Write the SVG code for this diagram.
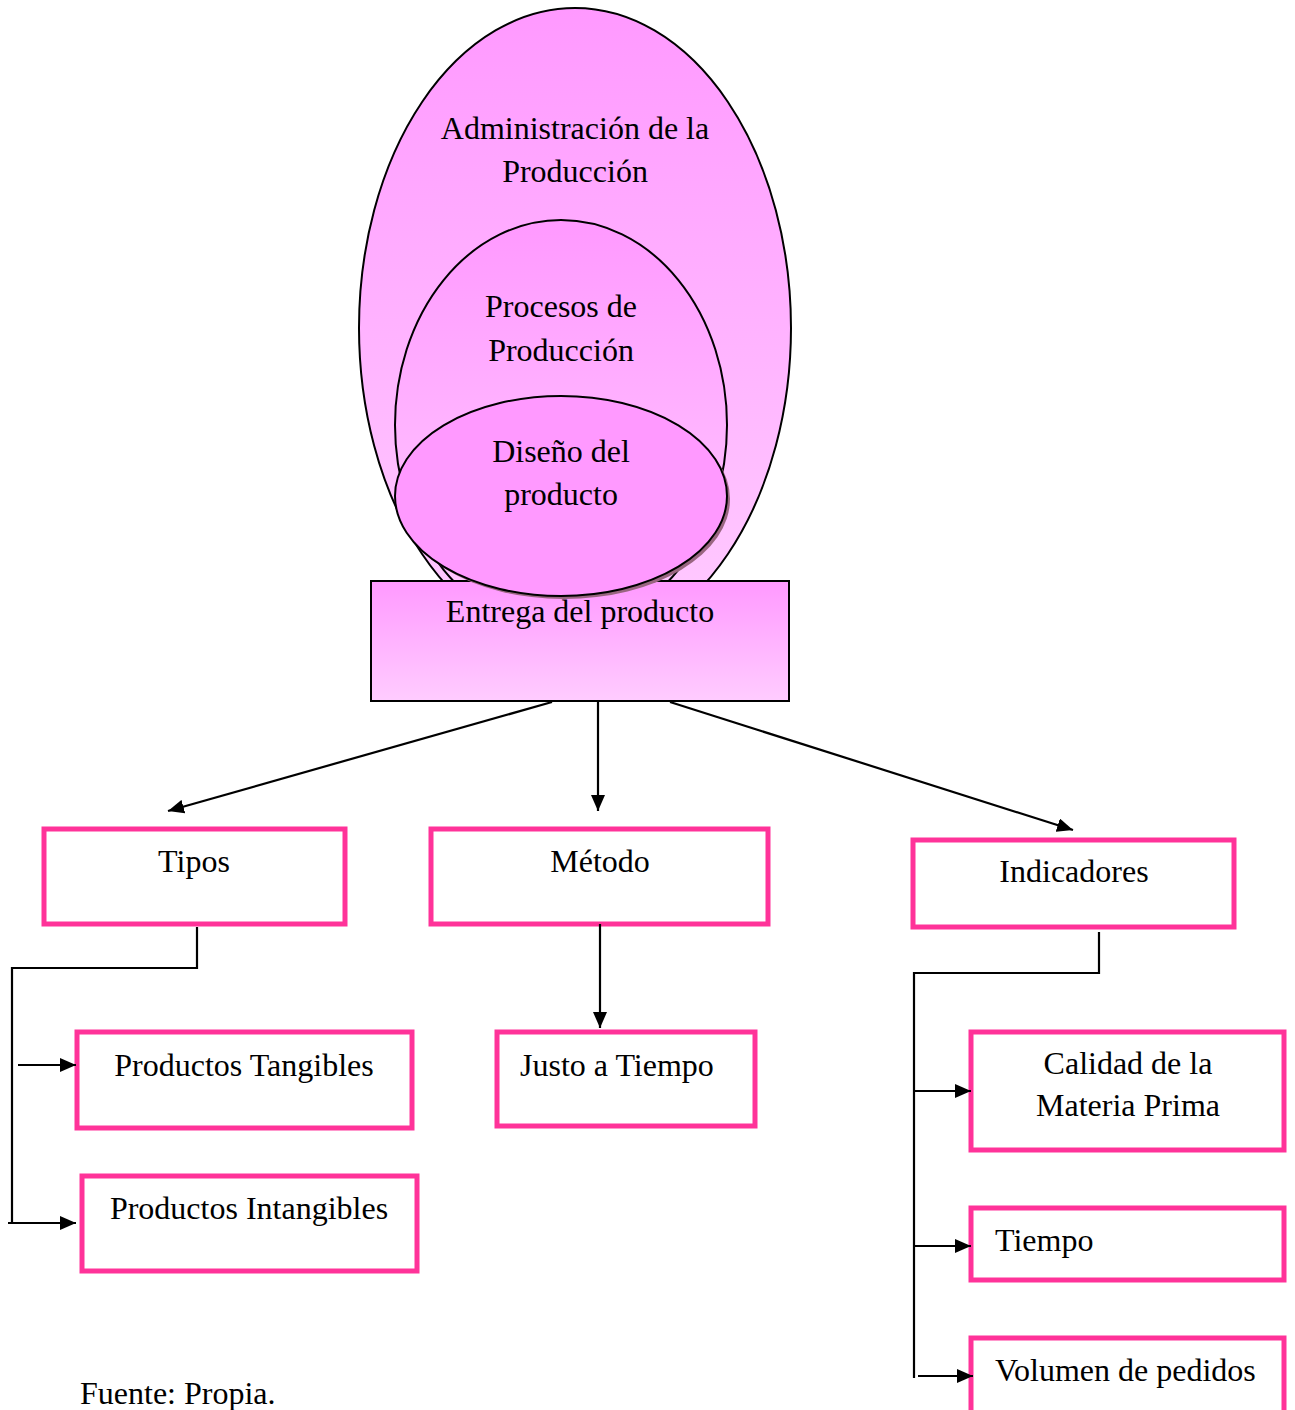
<svg xmlns="http://www.w3.org/2000/svg" width="1295" height="1410" viewBox="0 0 1295 1410">
<style>
text{font-family:"Liberation Serif","Times New Roman",serif;font-size:32px;fill:#000}
.c{text-anchor:middle}
.box{fill:#fff;stroke:#FF3399;stroke-width:5}
.ell{stroke:#000;stroke-width:2}
.ln{fill:none;stroke:#000;stroke-width:2.2}
</style>
<defs>
<linearGradient id="g1" x1="0" y1="0" x2="0" y2="1">
<stop offset="0" stop-color="#FF99FF"/>
<stop offset="1" stop-color="#FFCCFF"/>
</linearGradient>
<marker id="a" viewBox="0 0 16 14" refX="16" refY="7" markerWidth="16" markerHeight="14" markerUnits="userSpaceOnUse" orient="auto">
<path d="M0,0 L16,7 L0,14 z" fill="#000"/>
</marker>
</defs>
<g id="admin">
<ellipse class="ell" cx="575" cy="328" rx="216" ry="320" fill="url(#g1)"/>
<text class="c" x="575" y="139">Administración de la</text>
<text class="c" x="575" y="182">Producción</text>
</g>
<g id="procesos">
<ellipse class="ell" cx="561" cy="425" rx="166" ry="205" fill="url(#g1)"/>
<text class="c" x="561" y="317">Procesos de</text>
<text class="c" x="561" y="361">Producción</text>
</g>
<g id="entrega">
<rect x="371" y="581" width="418" height="120" fill="url(#g1)" stroke="#000" stroke-width="2"/>
<text class="c" x="580" y="622">Entrega del producto</text>
</g>
<g id="diseno">
<ellipse cx="564" cy="499" rx="166" ry="100" fill="#996680"/>
<ellipse class="ell" cx="561" cy="496" rx="166" ry="100" fill="#FF99FF"/>
<text class="c" x="561" y="462">Diseño del</text>
<text class="c" x="561" y="505">producto</text>
</g>
<g id="tipos">
<rect class="box" x="44" y="829" width="301" height="95"/>
<text class="c" x="194" y="872">Tipos</text>
</g>
<g id="metodo">
<rect class="box" x="431" y="829" width="337" height="95"/>
<text class="c" x="600" y="872">Método</text>
</g>
<g id="indicadores">
<rect class="box" x="913" y="840" width="321" height="87"/>
<text class="c" x="1074" y="882">Indicadores</text>
</g>
<g id="tangibles">
<rect class="box" x="77" y="1032" width="335" height="96"/>
<text class="c" x="244" y="1076">Productos Tangibles</text>
</g>
<g id="intangibles">
<rect class="box" x="82" y="1176" width="335" height="95"/>
<text class="c" x="249" y="1219">Productos Intangibles</text>
</g>
<g id="justo">
<rect class="box" x="497" y="1032" width="258" height="94"/>
<text x="520" y="1076">Justo a Tiempo</text>
</g>
<g id="calidad">
<rect class="box" x="971" y="1032" width="313" height="118"/>
<text class="c" x="1128" y="1074">Calidad de la</text>
<text class="c" x="1128" y="1116">Materia Prima</text>
</g>
<g id="tiempo">
<rect class="box" x="971" y="1208" width="313" height="72"/>
<text x="995" y="1251">Tiempo</text>
</g>
<g id="volumen">
<rect class="box" x="971" y="1338" width="313" height="76"/>
<text x="995" y="1381">Volumen de pedidos</text>
</g>
<g id="connectors">
<line class="ln" x1="552" y1="702" x2="168" y2="811" marker-end="url(#a)"/>
<line class="ln" x1="598" y1="702" x2="598" y2="811" marker-end="url(#a)"/>
<line class="ln" x1="670" y1="702" x2="1073" y2="830" marker-end="url(#a)"/>
<line class="ln" x1="600" y1="924" x2="600" y2="1028" marker-end="url(#a)"/>
<polyline class="ln" points="197,927 197,968 12,968 12,1222"/>
<line class="ln" x1="18" y1="1065" x2="76" y2="1065" marker-end="url(#a)"/>
<line class="ln" x1="8" y1="1223" x2="76" y2="1223" marker-end="url(#a)"/>
<polyline class="ln" points="1099,932 1099,973 914,973 914,1378"/>
<line class="ln" x1="914" y1="1091" x2="971" y2="1091" marker-end="url(#a)"/>
<line class="ln" x1="914" y1="1246" x2="971" y2="1246" marker-end="url(#a)"/>
<line class="ln" x1="918" y1="1376" x2="973" y2="1376" marker-end="url(#a)"/>
</g>
<text x="80" y="1404">Fuente: Propia.</text>
</svg>
